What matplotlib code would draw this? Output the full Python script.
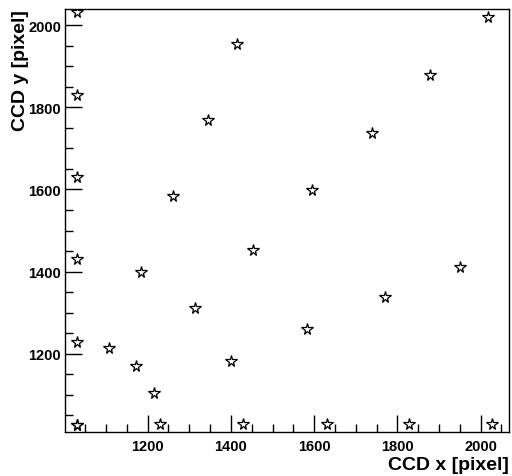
import matplotlib
matplotlib.use("Agg")
import matplotlib.pyplot as plt
from matplotlib.ticker import MultipleLocator

plt.rcParams['font.family'] = ['Liberation Sans', 'DejaVu Sans']

# star positions on the CCD (pixel)
ccd_x = [1030, 1030, 1030, 1030, 1030, 1030, 1030,
         1106, 1171, 1214, 1229, 1183, 1262, 1313, 1399, 1428,
         1346, 1414, 1454, 1582, 1596, 1630, 1740, 1771, 1829,
         1879, 1951, 2018, 2028]
ccd_y = [2032, 1830, 1631, 1431, 1229, 1027, 1027,
         1215, 1171, 1105, 1030, 1400, 1584, 1312, 1183, 1030,
         1769, 1954, 1453, 1261, 1599, 1030, 1738, 1339, 1030,
         1879, 1412, 2020, 1030]

fig = plt.figure(figsize=(5.12, 4.77), dpi=100)
ax = fig.add_axes([0.1275, 0.0916, 0.8665, 0.8874])

ax.plot(ccd_x, ccd_y, linestyle='none', marker='*', markersize=8.5,
        markerfacecolor='none', markeredgecolor='black', markeredgewidth=0.9)

ax.set_xlim(1002, 2068)
ax.set_ylim(1009, 2039)

ax.xaxis.set_major_locator(MultipleLocator(200))
ax.xaxis.set_minor_locator(MultipleLocator(50))
ax.yaxis.set_major_locator(MultipleLocator(200))
ax.yaxis.set_minor_locator(MultipleLocator(50))

ax.tick_params(which='both', direction='in', top=False, right=False,
               width=1, labelsize=10.5)
ax.tick_params(axis='x', pad=5)
ax.tick_params(axis='y', pad=3)
ax.tick_params(which='major', length=12)
ax.tick_params(which='minor', length=6)
for lab in ax.get_xticklabels() + ax.get_yticklabels():
    lab.set_fontweight('bold')
for sp in ax.spines.values():
    sp.set_linewidth(1)

ax.set_xlabel('CCD x [pixel]', fontsize=14, fontweight='bold', loc='right')
ax.set_ylabel('CCD y [pixel]', fontsize=14, fontweight='bold', loc='top')
ax.xaxis.set_label_coords(1.0, -0.055)
ax.yaxis.set_label_coords(-0.082, 1.0)

fig.savefig('out.png', dpi=100)
